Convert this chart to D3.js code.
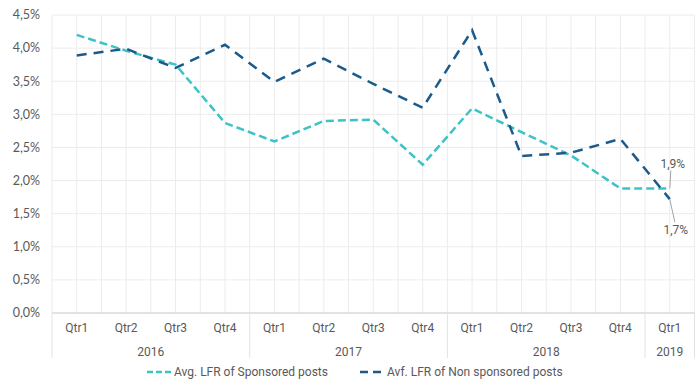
<!DOCTYPE html>
<html><head><meta charset="utf-8">
<script src="https://cdn.jsdelivr.net/npm/d3@7/dist/d3.min.js"></script>
<style>body{margin:0;background:#fff;}svg{display:block;}</style>
</head><body>
<svg id="chart" width="700" height="387"></svg>
<script>
const quarters = ["Qtr1","Qtr2","Qtr3","Qtr4","Qtr1","Qtr2","Qtr3","Qtr4","Qtr1","Qtr2","Qtr3","Qtr4","Qtr1"];
const years = ["2016","2016","2016","2016","2017","2017","2017","2017","2018","2018","2018","2018","2019"];
const sponsored = [4.20, 3.96, 3.75, 2.87, 2.59, 2.90, 2.92, 2.24, 3.09, 2.73, 2.38, 1.88, 1.88];
const nonSponsored = [3.89, 3.99, 3.70, 4.05, 3.49, 3.84, 3.46, 3.10, 4.27, 2.37, 2.42, 2.63, 1.72];
const yTicks = [0, 0.5, 1, 1.5, 2, 2.5, 3, 3.5, 4, 4.5];
const seriesNames = ["Avg. LFR of Sponsored posts", "Avf. LFR of Non sponsored posts"];

const svg = d3.select("#chart");
const L = 52, R = 694.5, T = 15, B = 313;
const idx = d3.range(quarters.length);
const x = d3.scaleBand().domain(idx).range([L, R]);
const y = d3.scaleLinear().domain([0, 4.5]).range([B, T]);
const fmt = v => d3.format(".1f")(v).replace(".", ",") + "%";
const grid = "#ececec";
const txt = "#595959";

// horizontal gridlines
svg.append("g").selectAll("line").data(yTicks.filter(d => d > 0)).join("line")
  .attr("x1", L).attr("x2", R).attr("y1", d => y(d)).attr("y2", d => y(d))
  .attr("stroke", grid).attr("stroke-width", 1);
// vertical gridlines at band edges and centers
const vx = [];
idx.forEach(i => { vx.push(x(i)); vx.push(x(i) + x.bandwidth() / 2); });
vx.push(R);
svg.append("g").selectAll("line").data(vx).join("line")
  .attr("x1", d => d).attr("x2", d => d).attr("y1", T).attr("y2", B)
  .attr("stroke", grid).attr("stroke-width", 1);

// y axis labels
svg.append("g").selectAll("text").data(yTicks).join("text")
  .attr("x", 40).attr("y", d => y(d)).attr("dy", "0.35em")
  .attr("text-anchor", "end").attr("font-family", "Lato, sans-serif")
  .attr("font-size", 12.5).attr("fill", txt).text(d => fmt(d));

// x axis baseline
svg.append("line").attr("x1", L).attr("x2", R).attr("y1", B).attr("y2", B)
  .attr("stroke", "#d9d9d9").attr("stroke-width", 1.5);

// quarter labels
svg.append("g").selectAll("text").data(idx).join("text")
  .attr("x", i => x(i) + x.bandwidth() / 2).attr("y", 332)
  .attr("text-anchor", "middle").attr("font-family", "Roboto, sans-serif")
  .attr("font-size", 12).attr("fill", txt).text(i => quarters[i]);

// year groups
const yearGroups = d3.groups(idx, i => years[i]);
svg.append("g").selectAll("text").data(yearGroups).join("text")
  .attr("x", d => (x(d[1][0]) + x(d[1][d[1].length - 1]) + x.bandwidth()) / 2).attr("y", 356)
  .attr("text-anchor", "middle").attr("font-family", "Roboto, sans-serif")
  .attr("font-size", 12).attr("fill", txt).text(d => d[0]);
const seps = [L].concat(yearGroups.map(d => x(d[1][d[1].length - 1]) + x.bandwidth()));
svg.append("g").selectAll("line").data(seps).join("line")
  .attr("x1", d => d).attr("x2", d => d).attr("y1", B).attr("y2", 358)
  .attr("stroke", "#e3e3e3").attr("stroke-width", 1);

// lines
const cx = i => x(i) + x.bandwidth() / 2;
const line = d3.line().x((d, i) => cx(i)).y(d => y(d));
svg.append("path").datum(sponsored).attr("d", line).attr("fill", "none")
  .attr("stroke", "#3cc3c8").attr("stroke-width", 2.5).attr("stroke-dasharray", "8,4");
svg.append("path").datum(nonSponsored).attr("d", line).attr("fill", "none")
  .attr("stroke", "#1b5a8a").attr("stroke-width", 2.5).attr("stroke-dasharray", "10,7");

// data labels for last point
const last = idx.length - 1;
svg.append("line").attr("x1", cx(last)).attr("y1", y(sponsored[last]))
  .attr("x2", cx(last) + 1).attr("y2", y(sponsored[last]) - 18)
  .attr("stroke", "#a6a6a6").attr("stroke-width", 1);
svg.append("text").attr("x", cx(last) + 3).attr("y", y(sponsored[last]) - 21)
  .attr("text-anchor", "middle").attr("font-family", "Roboto, sans-serif")
  .attr("font-size", 12).attr("fill", txt).text(fmt(sponsored[last]));
svg.append("line").attr("x1", cx(last)).attr("y1", y(nonSponsored[last]))
  .attr("x2", cx(last) + 5).attr("y2", y(nonSponsored[last]) + 23)
  .attr("stroke", "#a6a6a6").attr("stroke-width", 1);
svg.append("text").attr("x", cx(last) + 6).attr("y", y(nonSponsored[last]) + 35)
  .attr("text-anchor", "middle").attr("font-family", "Roboto, sans-serif")
  .attr("font-size", 12).attr("fill", txt).text(fmt(nonSponsored[last]));

// legend
const leg = [
  {name: seriesNames[0], x: 147, color: "#3cc3c8", dash: "6,3"},
  {name: seriesNames[1], x: 360, color: "#1b5a8a", dash: "8,5"}
];
const lg = svg.append("g").selectAll("g").data(leg).join("g");
lg.append("line").attr("x1", d => d.x).attr("x2", d => d.x + 25).attr("y1", 372).attr("y2", 372)
  .attr("stroke", d => d.color).attr("stroke-width", 2.5).attr("stroke-dasharray", d => d.dash);
lg.append("text").attr("x", d => d.x + 27).attr("y", 372).attr("dy", "0.35em")
  .attr("font-family", "Roboto, sans-serif").attr("font-size", 12).attr("fill", txt)
  .text(d => d.name);
</script>
</body></html>
